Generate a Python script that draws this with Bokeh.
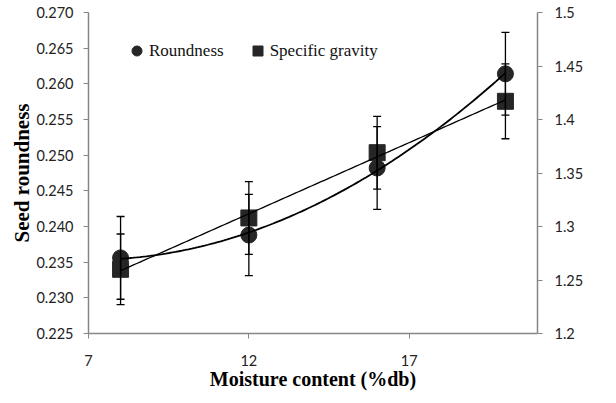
import math
import numpy as np
from bokeh.plotting import figure
from bokeh.models import (Range1d, LinearAxis, FixedTicker, NumeralTickFormatter,
                          Whisker, TeeHead, ColumnDataSource, Legend, LegendItem, Label, Title)
from bokeh.embed import file_html
from bokeh.resources import INLINE

# ---- data ----
moisture = [8, 12, 16, 20]
roundness = [0.2356, 0.2388, 0.2482, 0.2614]
roundness_err = [0.0058, 0.0057, 0.0058, 0.0058]
sg = [1.260, 1.308, 1.369, 1.417]
sg_err = [0.033, 0.034, 0.034, 0.035]

x_ticks = [7, 12, 17]
y_ticks = [0.225, 0.230, 0.235, 0.240, 0.245, 0.250, 0.255, 0.260, 0.265, 0.270]
sg_ticks = [1.2, 1.25, 1.3, 1.35, 1.4, 1.45, 1.5]

AXIS_COLOR = "#868686"
MARK_COLOR = "#262626"
TICK_FONT = "Lato"
SERIF = "Liberation Serif"

p = figure(width=616, height=403, x_range=Range1d(7, 21), y_range=Range1d(0.225, 0.270),
           output_backend="svg", toolbar_location=None,
           min_border_left=88, min_border_right=79, min_border_top=12, min_border_bottom=70)
p.outline_line_color = None
p.xgrid.visible = False
p.ygrid.visible = False
p.background_fill_color = "white"
p.border_fill_color = "white"

p.extra_y_ranges = {"sg": Range1d(1.2, 1.5)}


def style_axis(ax, standoff):
    ax.axis_line_color = AXIS_COLOR
    ax.axis_line_width = 1.5
    ax.major_tick_line_color = AXIS_COLOR
    ax.major_tick_line_width = 1
    ax.major_tick_in = 0
    ax.major_tick_out = 5
    ax.minor_tick_line_color = None
    ax.major_label_text_font = TICK_FONT
    ax.major_label_text_font_size = "14.5px"
    ax.major_label_text_color = "#222222"
    ax.major_label_standoff = standoff
    ax.axis_label_text_font = SERIF
    ax.axis_label_text_font_style = "bold"
    ax.axis_label_text_color = "black"


xa = p.xaxis[0]
style_axis(xa, 16)
xa.ticker = FixedTicker(ticks=x_ticks)
xa.formatter = NumeralTickFormatter(format="0")
xa.axis_label = "Moisture content (%db)"
xa.axis_label_text_font_size = "20px"
xa.axis_label_standoff = -1

ya = p.yaxis[0]
style_axis(ya, 10)
ya.ticker = FixedTicker(ticks=y_ticks)
ya.formatter = NumeralTickFormatter(format="0.000")

ra = LinearAxis(y_range_name="sg")
style_axis(ra, 12)
ra.ticker = FixedTicker(ticks=sg_ticks)
ra.formatter = NumeralTickFormatter(format="0.0[0]")
p.add_layout(ra, "right")

# left axis title, as a side title (reads bottom-to-top), shifted slightly down
p.add_layout(Title(text="Seed roundness", align="center", offset=11, standoff=0,
                   text_font=SERIF, text_font_style="bold", text_font_size="21px",
                   text_color="black"), "left")

# right axis title (reads bottom-to-top)
p.add_layout(Label(x=514, y=168, x_units="screen", y_units="screen",
                   text="Specific gravity", angle=math.pi / 2,
                   text_align="center", text_baseline="middle",
                   text_font=SERIF, text_font_style="bold", text_font_size="20px",
                   text_color="black"))

# ---- markers ----
rc = p.scatter(moisture, roundness, marker="circle", size=16, color=MARK_COLOR)
rs = p.scatter(moisture, sg, marker="square", size=16, color=MARK_COLOR, y_range_name="sg")

# ---- error bars ----
src_r = ColumnDataSource(dict(x=moisture,
                              upper=[v + e for v, e in zip(roundness, roundness_err)],
                              lower=[v - e for v, e in zip(roundness, roundness_err)]))
src_s = ColumnDataSource(dict(x=moisture,
                              upper=[v + e for v, e in zip(sg, sg_err)],
                              lower=[v - e for v, e in zip(sg, sg_err)]))
for src, rng in ((src_r, "default"), (src_s, "sg")):
    w = Whisker(source=src, base="x", upper="upper", lower="lower", dimension="height",
                line_color="black", line_width=1.3, level="overlay",
                upper_head=TeeHead(size=8, line_color="black", line_width=1.3),
                lower_head=TeeHead(size=8, line_color="black", line_width=1.3))
    if rng != "default":
        w.y_range_name = rng
    p.add_layout(w)

# ---- trendlines ----
xs = np.linspace(min(moisture), max(moisture), 120)
r_fit = np.polyval(np.polyfit(moisture, roundness, 2), xs)
s_fit = np.polyval(np.polyfit(moisture, sg, 1), xs)
p.line(xs, r_fit, line_color="black", line_width=1.8)
p.line(xs, s_fit, line_color="black", line_width=1.3, y_range_name="sg")

# ---- legend ----
legend = Legend(items=[LegendItem(label="Roundness", renderers=[rc]),
                       LegendItem(label="Specific gravity", renderers=[rs])],
                location=(36, 270), orientation="horizontal",
                glyph_width=25, glyph_height=25, label_standoff=0, spacing=21,
                padding=0, margin=0, border_line_color=None, background_fill_alpha=0,
                label_text_font=SERIF, label_text_font_size="17px", label_text_color="#111111")
p.add_layout(legend)

open("out.html", "w").write(file_html(p, INLINE))
